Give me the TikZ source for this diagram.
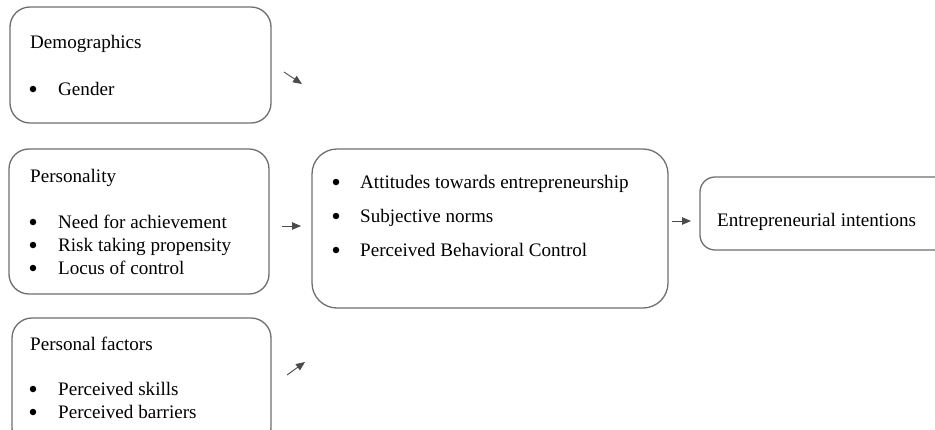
\documentclass[tikz,border=0pt]{standalone}
\usepackage{fontspec}
\setmainfont{Liberation Serif}
\usetikzlibrary{arrows.meta}
\definecolor{framegray}{RGB}{110,110,110}
\definecolor{arrowgray}{RGB}{75,75,75}
\begin{document}
\begin{tikzpicture}[x=1pt, y=-1pt,
    factor/.style={draw=framegray, line width=1.3pt, rounded corners=20pt, inner sep=0pt},
    entry/.style={anchor=base west, inner sep=0pt, font=\fontsize{19.1}{23}\selectfont},
    dot/.style={circle, fill=black, inner sep=0pt, minimum size=6.5pt},
    link/.style={draw=arrowgray, line width=0.9pt, -{Triangle[length=9pt,width=7.5pt]}}]
      \useasboundingbox (0,0) rectangle (935,429);
      \clip (0,0) rectangle (935,429);

      % boxes
      \node[factor, minimum width=261, minimum height=116] (demo) at (140.5,65) {};
      \node[factor, minimum width=260, minimum height=145] (pers) at (139,221.5) {};
      \node[factor, minimum width=259, minimum height=130] (pfac) at (141.5,383) {};
      \node[factor, rounded corners=25pt, minimum width=356, minimum height=159] (tpb) at (490,228.5) {};
      \node[factor, rounded corners=15pt, minimum width=260, minimum height=73] (ei) at (830,213.5) {};

      % headings
      \node[entry] (demo-h) at (30,48) {Demographics};
      \node[entry] (pers-h) at (30,182) {Personality};
      \node[entry] (pfac-h) at (30,350) {Personal factors};
      \node[entry] (ei-h) at (717,226) {Entrepreneurial intentions};

      % bullet lists
      \foreach \y/\txt in {95/Gender,
          228/Need for achievement, 251/Risk taking propensity, 274/Locus of control,
          395/Perceived skills, 418/Perceived barriers} {
        \node[dot] (b-\y) at (33,\y-6) {};
        \node[entry] (i-\y) at (58,\y) {\txt};
      }
      \foreach \y/\txt in {188/Attitudes towards entrepreneurship,
          222/Subjective norms, 256/Perceived Behavioral Control} {
        \node[dot] (b-\y) at (336,\y-6) {};
        \node[entry] (i-\y) at (360,\y) {\txt};
      }

      % arrows
      \coordinate (demo-out) at (284,72);
      \coordinate (demo-in) at (302,84);
      \coordinate (pers-out) at (282,226);
      \coordinate (pers-in) at (301,226);
      \coordinate (pfac-out) at (287,375);
      \coordinate (pfac-in) at (305,362);
      \coordinate (tpb-out) at (672,221);
      \coordinate (tpb-in) at (691,221);
      \draw[link] (demo-out) -- (demo-in);
      \draw[link] (pers-out) -- (pers-in);
      \draw[link] (pfac-out) -- (pfac-in);
      \draw[link] (tpb-out) -- (tpb-in);
    \end{tikzpicture}
\end{document}
